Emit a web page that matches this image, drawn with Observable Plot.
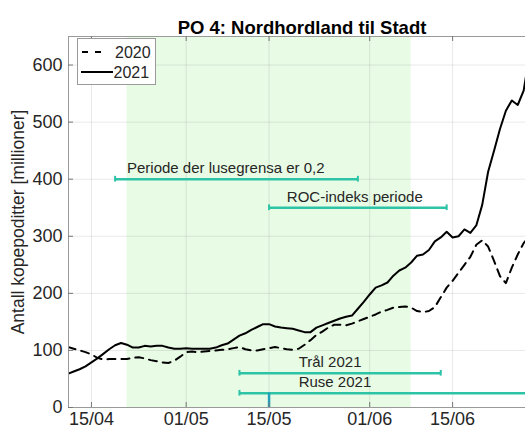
<!DOCTYPE html>
<html>
<head>
<meta charset="utf-8">
<script src="https://cdn.jsdelivr.net/npm/d3@7"></script>
<script src="https://cdn.jsdelivr.net/npm/@observablehq/plot@0.6"></script>
<style>
  html, body { margin: 0; padding: 0; background: white; }
  #wrap { position: relative; width: 525px; height: 429px; }
  #legend { position: absolute; left: 77px; top: 38px; }
</style>
</head>
<body>
<div id="wrap"></div>
<script>
// ---- Data ----
const title = "PO 4: Nordhordland til Stadt";
const yLabel = "Antall kopepoditter [millioner]";
const startDate = "2021-04-11";
const endDate = "2021-06-29"; // exclusive, daily series Apr 11 .. Jun 28
const dates = d3.utcDay.range(new Date(startDate), new Date(endDate));

const values2020 = [
  106,103,100,97,93,87,84,85,85,85,85,87,88,86,83,81,79,78,82,89,
  97,98,97,98,99,100,101,102,104,106,102,100,100,102,104,106,104,102,101,103,110,118,127,133,140,145,145,144,147,151,155,
  159,163,168,171,175,176,177,175,169,167,169,176,193,210,222,236,250,264,285,293,282,257,230,218,245,268,288,300
];
const values2021 = [
  59,63,67,72,79,86,94,102,109,113,110,105,105,108,107,108,108,105,103,103,
  104,103,103,103,103,105,109,112,119,126,130,136,141,146,146,142,140,139,138,135,132,132,140,144,148,152,156,159,161,173,185,
  198,210,214,219,231,240,245,254,266,268,276,291,298,308,298,300,312,306,319,355,413,450,488,520,538,530,555,620
];

const seriesNames = ["2020", "2021"];
const xTickDates = ["2021-04-15", "2021-05-01", "2021-05-15", "2021-06-01", "2021-06-15"];
const yTicks = [0, 100, 200, 300, 400, 500, 600];
const xDomain = ["2021-04-11T03:00Z", "2021-06-27T07:30Z"];
const yDomain = [0, 650];

// shaded period (lusegrense 0.2 window)
const shadeStart = "2021-04-21";
const shadeEnd = "2021-06-08";

// annotation periods
const periodLabels = ["Periode der lusegrensa er 0,2", "ROC-indeks periode", "Trål 2021", "Ruse 2021"];
const periodStarts = ["2021-04-19", "2021-05-15", "2021-05-10", "2021-05-10"];
const periodEnds   = ["2021-05-30", "2021-06-14", "2021-06-13", "2021-07-10"];
const periodY      = [400, 350, 60, 25];
const labelDates   = ["2021-04-21", "2021-05-18", "2021-05-20", "2021-05-20"];
const labelY       = [420, 368, 79, 44];
const ruseMarkDate = "2021-05-15";
const ruseMarkTop = 25;

// ---- Build tables ----
const rows2020 = dates.map((d, i) => ({date: d, value: values2020[i]}));
const rows2021 = dates.map((d, i) => ({date: d, value: values2021[i]}));
const xTicks = xTickDates.map(s => new Date(s));
const periods = periodLabels.map((l, i) => ({
  label: l, start: new Date(periodStarts[i]), end: new Date(periodEnds[i]),
  y: periodY[i], ld: new Date(labelDates[i]), ly: labelY[i]
}));
const caps = periods.flatMap(p => [{x: p.start, y: p.y}, {x: p.end, y: p.y}]);

const W = 525, H = 429, mL = 68, mR = 0, mT = 36, mB = 22;
const innerW = W - mL - mR, innerH = H - mT - mB;
const teal = "#2cc3a6";
const ink = "#262626";

const chart = Plot.plot({
  width: W, height: H,
  marginLeft: mL, marginRight: mR, marginTop: mT, marginBottom: mB,
  style: {fontFamily: "'Liberation Sans', Arial, Helvetica, sans-serif", fontSize: "15px", color: ink, background: "white", overflow: "visible"},
  x: {type: "utc", domain: xDomain.map(s => new Date(s))},
  y: {domain: yDomain},
  marks: [
    Plot.rect([0], {x1: () => new Date(shadeStart), x2: () => new Date(shadeEnd), y1: yDomain[0], y2: yDomain[1], fill: "#e8fbe5"}),
    Plot.gridX(xTicks, {stroke: "#000", strokeOpacity: 0.09}),
    Plot.gridY(yTicks, {stroke: "#000", strokeOpacity: 0.09}),
    Plot.line(rows2020, {x: "date", y: "value", stroke: "black", strokeWidth: 2, strokeDasharray: "8,6", clip: true}),
    Plot.line(rows2021, {x: "date", y: "value", stroke: "black", strokeWidth: 2, clip: true}),
    Plot.ruleY(periods, {x1: "start", x2: "end", y: "y", stroke: teal, strokeWidth: 2.5, clip: true}),
    Plot.ruleX(caps, {x: "x", y1: d => d.y - 5, y2: d => d.y + 5, stroke: teal, strokeWidth: 2, clip: true}),
    Plot.ruleX([ruseMarkDate], {x: d => new Date(d), y1: 0, y2: ruseMarkTop, stroke: "#23a0bd", strokeWidth: 2.5}),
    Plot.text(periods, {x: "ld", y: "ly", text: "label", textAnchor: "start", fontSize: 15, fill: ink}),
    Plot.frame({stroke: "#9a9a9a"}),
    Plot.ruleX(xTicks, {insetTop: innerH - 5, stroke: "#777"}),
    Plot.ruleX(xTicks, {insetBottom: innerH - 5, stroke: "#777"}),
    Plot.ruleY(yTicks, {insetRight: innerW - 5, stroke: "#777"}),
    Plot.axisX(xTicks, {tickSize: 0, tickPadding: 5, tickFormat: d3.utcFormat("%d/%m"), fontSize: 18, label: null, fill: ink}),
    Plot.axisY(yTicks, {tickSize: 0, tickPadding: 6, fontSize: 18, fill: ink, label: null}),
    Plot.text([yLabel], {frameAnchor: "left", textAnchor: "middle", rotate: -90, dx: -50, fontSize: 17.5, fill: ink}),
    Plot.text([title], {frameAnchor: "top", dy: -16, dx: 5, fontWeight: "bold", fontSize: 18.5, fill: "#000"})
  ]
});

const wrap = document.getElementById("wrap");
wrap.appendChild(chart);

// ---- Legend (HTML/SVG overlay) ----
const legend = document.createElement("div");
legend.id = "legend";
legend.innerHTML = `
<svg width="79" height="47" xmlns="http://www.w3.org/2000/svg" style="font-family:'Liberation Sans', Arial, sans-serif">
  <rect x="0.5" y="0.5" width="78" height="46" fill="white" stroke="#9a9a9a"/>
  <line x1="5" y1="14" x2="24" y2="14" stroke="black" stroke-width="2" stroke-dasharray="6,7"/>
  <text x="38" y="20" font-size="16" fill="${ink}">${seriesNames[0]}</text>
  <line x1="4" y1="34" x2="36" y2="34" stroke="black" stroke-width="2"/>
  <text x="36.5" y="40" font-size="16" fill="${ink}">${seriesNames[1]}</text>
</svg>`;
wrap.appendChild(legend);
</script>
</body>
</html>
